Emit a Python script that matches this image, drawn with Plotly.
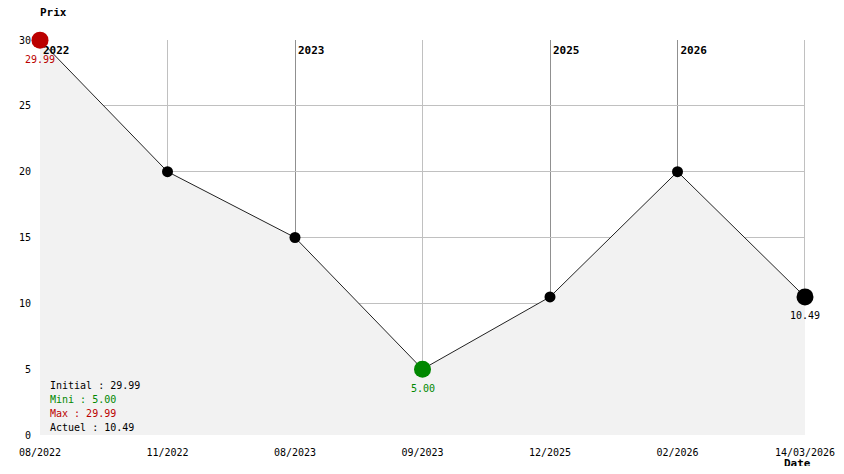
import math
import plotly.graph_objects as go

dates = ["08/2022", "11/2022", "08/2023", "09/2023", "12/2025", "02/2026", "14/03/2026"]
prices = [29.99, 20.0, 15.0, 5.0, 10.49, 20.0, 10.49]
year_idx = [0, 2, 4, 5]
year_labels = ["2022", "2023", "2025", "2026"]
y_ticks = [0, 5, 10, 15, 20, 25, 30]
summary_labels = ["Initial : 29.99", "Mini : 5.00", "Max : 29.99", "Actuel : 10.49"]
summary_colors = ["#000000", "#008800", "#bb0000", "#000000"]

x = list(range(len(dates)))
FONT = "DejaVu Sans Mono"
RED, GREEN = "#bb0000", "#008800"
Y_MAX = 30
N = len(dates) - 1

i_max = prices.index(max(prices))
i_min = prices.index(min(prices))
i_last = len(prices) - 1

# plot area in page pixels (page body has an 8px margin)
PL, PR, PT, PB = 40, 805, 40, 435
PW, PH = PR - PL, PB - PT

fig = go.Figure()
fig.add_trace(go.Scatter(x=x, y=prices, mode="lines", fill="tozeroy",
                         fillcolor="#f2f2f2", line=dict(color="#222222", width=1),
                         hoverinfo="skip", cliponaxis=True))
# year labels (drawn before markers so the markers cover them)
dx = 3 / PW * N
dy = 6 / PH * Y_MAX
fig.add_trace(go.Scatter(x=[i + dx for i in year_idx], y=[Y_MAX - dy] * len(year_idx),
                         mode="text",
                         text=["<b>%s</b>" % t for t in year_labels],
                         textposition="bottom right",
                         textfont=dict(family=FONT, size=11, color="black"),
                         cliponaxis=False, hoverinfo="skip"))
colors, sizes = [], []
for i in x:
    if i == i_max:
        colors.append(RED); sizes.append(17)
    elif i == i_min:
        colors.append(GREEN); sizes.append(17)
    elif i == i_last:
        colors.append("black"); sizes.append(17)
    else:
        colors.append("black"); sizes.append(11)
fig.add_trace(go.Scatter(x=x, y=prices, mode="markers",
                         marker=dict(color=colors, size=sizes, opacity=1, line=dict(width=0)),
                         cliponaxis=False))

# vertical grid lines (pixel-snapped), darker at the first point of each year
shapes = []
for i in x:
    px = PL + i * PW / N
    off = (math.floor(px) + 0.5 - px) / PW * N
    if i == N:
        off = (math.floor(px) - 0.5 - px) / PW * N
    col = "#909090" if i in year_idx else "#c0c0c0"
    shapes.append(dict(type="line", xref="x", yref="y", x0=i + off, x1=i + off,
                       y0=0, y1=Y_MAX, line=dict(color=col, width=1), layer="below"))

annotations = []
for i, col in [(i_max, RED), (i_min, GREEN), (i_last, "black")]:
    annotations.append(dict(x=i, y=prices[i], xref="x", yref="y", text="%.2f" % prices[i],
                            showarrow=False, yshift=-19, xanchor="center",
                            font=dict(family=FONT, size=10, color=col)))
for k, (t, c) in enumerate(zip(summary_labels, summary_colors)):
    py = 385 + 14 * k
    annotations.append(dict(x=8 / PW, y=(PB - py) / PH, xref="paper", yref="paper", text=t,
                            showarrow=False, xanchor="left", yanchor="middle",
                            font=dict(family=FONT, size=10, color=c)))
annotations.append(dict(x=(53 - PL) / PW, y=(PB - 12) / PH, xref="paper", yref="paper",
                        text="<b>Prix</b>", showarrow=False, xanchor="center", yanchor="middle",
                        font=dict(family=FONT, size=11, color="black")))
annotations.append(dict(x=(797 - PL) / PW, y=(PB - 463) / PH, xref="paper", yref="paper",
                        text="<b>Date</b>", showarrow=False, xanchor="center", yanchor="middle",
                        font=dict(family=FONT, size=11, color="black")))

fig.update_layout(
    width=836, height=458,
    margin=dict(l=32, r=39, t=32, b=31, autoexpand=False),
    paper_bgcolor="white", plot_bgcolor="white",
    showlegend=False,
    font=dict(family=FONT, size=10, color="black"),
    shapes=shapes, annotations=annotations,
    xaxis=dict(range=[0, N], tickvals=x, ticktext=dates,
               showgrid=False, zeroline=False,
               ticks="outside", ticklen=8, tickcolor="rgba(0,0,0,0)",
               showline=False, fixedrange=True, automargin=False),
    yaxis=dict(range=[0, Y_MAX], tickvals=y_ticks, showgrid=True, gridcolor="#c0c0c0",
               gridwidth=1, zeroline=False, ticks="outside", ticklen=6,
               tickcolor="rgba(0,0,0,0)", showline=False, fixedrange=True, automargin=False),
)

fig.write_html("out.html")
